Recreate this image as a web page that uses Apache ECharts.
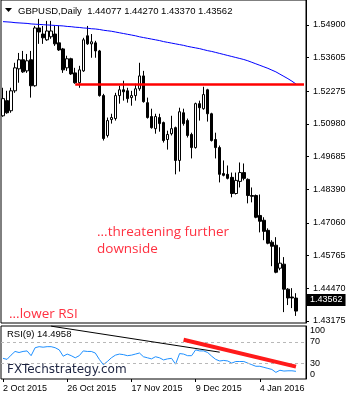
<!DOCTYPE html>
<html>
<head>
<meta charset="utf-8">
<script src="https://cdn.jsdelivr.net/npm/echarts@6/dist/echarts.min.js"></script>
<style>
  html, body { margin: 0; padding: 0; background: #fff; }
  #main { width: 350px; height: 400px; }
</style>
</head>
<body>
<div id="main"></div>
<script>
// trading days, two empty ones at the right (chart shift)
const dates = [
  '2 Oct 2015','5 Oct 2015','6 Oct 2015','7 Oct 2015','8 Oct 2015','9 Oct 2015','12 Oct 2015','13 Oct 2015','14 Oct 2015','15 Oct 2015',
  '16 Oct 2015','19 Oct 2015','20 Oct 2015','21 Oct 2015','22 Oct 2015','23 Oct 2015','26 Oct 2015','27 Oct 2015','28 Oct 2015','29 Oct 2015',
  '30 Oct 2015','2 Nov 2015','3 Nov 2015','4 Nov 2015','5 Nov 2015','6 Nov 2015','9 Nov 2015','10 Nov 2015','11 Nov 2015','12 Nov 2015',
  '13 Nov 2015','16 Nov 2015','17 Nov 2015','18 Nov 2015','19 Nov 2015','20 Nov 2015','23 Nov 2015','24 Nov 2015','25 Nov 2015','26 Nov 2015',
  '27 Nov 2015','30 Nov 2015','1 Dec 2015','2 Dec 2015','3 Dec 2015','4 Dec 2015','7 Dec 2015','8 Dec 2015','9 Dec 2015','10 Dec 2015',
  '11 Dec 2015','14 Dec 2015','15 Dec 2015','16 Dec 2015','17 Dec 2015','18 Dec 2015','21 Dec 2015','22 Dec 2015','23 Dec 2015','24 Dec 2015',
  '28 Dec 2015','29 Dec 2015','30 Dec 2015','31 Dec 2015','4 Jan 2016','5 Jan 2016','6 Jan 2016','7 Jan 2016','8 Jan 2016','11 Jan 2016',
  '12 Jan 2016','13 Jan 2016','14 Jan 2016','15 Jan 2016','18 Jan 2016','19 Jan 2016'
]
const dateLabels = ['2 Oct 2015','26 Oct 2015','17 Nov 2015','9 Dec 2015','4 Jan 2016']

const opens = [
  1.5130,1.5190,1.5150,1.5229,1.5316,1.5352,1.5308,1.5352,1.5249,1.5478,
  1.5454,1.5431,1.5443,1.5454,1.5419,1.5395,1.5320,1.5356,1.5300,1.5261,
  1.5308,1.5447,1.5415,1.5419,1.5387,1.5210,1.5052,1.5115,1.5119,1.5210,
  1.5233,1.5229,1.5202,1.5210,1.5237,1.5288,1.5182,1.5127,1.5079,1.5123,
  1.5103,1.5036,1.5059,1.5083,1.4953,1.5142,1.5111,1.5056,1.5004,1.5178,
  1.5158,1.5233,1.5138,1.5036,1.5004,1.4901,1.4898,1.4886,1.4822,1.4870,
  1.4905,1.4878,1.4814,1.4814,1.4735,1.4716,1.4676,1.4629,1.4617,1.4526,
  1.4542,1.4443,1.4412,1.44077
]
const closes = [
  1.5198,1.5142,1.5229,1.5320,1.5352,1.5304,1.5348,1.5249,1.5478,1.5462,
  1.5439,1.5466,1.5466,1.5415,1.5391,1.5312,1.5356,1.5296,1.5261,1.5312,
  1.5431,1.5415,1.5423,1.5387,1.5210,1.5040,1.5111,1.5123,1.5210,1.5233,
  1.5225,1.5198,1.5210,1.5237,1.5288,1.5186,1.5123,1.5083,1.5127,1.5099,
  1.5032,1.5056,1.5079,1.4953,1.5146,1.5099,1.5052,1.5004,1.5178,1.5162,
  1.5214,1.5138,1.5032,1.5004,1.4898,1.4894,1.4882,1.4822,1.4874,1.4905,
  1.4882,1.4814,1.4811,1.4728,1.4712,1.4672,1.4625,1.4613,1.4510,1.4546,
  1.4443,1.4408,1.4408,1.43562
]
const lows = [
  1.5126,1.5138,1.5142,1.5221,1.5261,1.5300,1.5300,1.5202,1.5245,1.5415,
  1.5415,1.5427,1.5435,1.5407,1.5387,1.5300,1.5308,1.5292,1.5257,1.5241,
  1.5304,1.5411,1.5360,1.5360,1.5206,1.5032,1.5044,1.5099,1.5111,1.5178,
  1.5190,1.5182,1.5170,1.5190,1.5229,1.5182,1.5119,1.5079,1.5059,1.5067,
  1.5024,1.4996,1.5052,1.4898,1.4909,1.5091,1.5044,1.4961,1.5000,1.5111,
  1.5154,1.5107,1.5028,1.4961,1.4866,1.4890,1.4878,1.4807,1.4818,1.4846,
  1.4874,1.4783,1.4787,1.4724,1.4668,1.4637,1.4621,1.4534,1.4506,1.4518,
  1.4352,1.4380,1.4368,1.43370
]
const highs = [
  1.5241,1.5229,1.5241,1.5340,1.5379,1.5387,1.5375,1.5387,1.5486,1.5514,
  1.5486,1.5506,1.5506,1.5486,1.5486,1.5399,1.5368,1.5360,1.5320,1.5328,
  1.5439,1.5486,1.5454,1.5427,1.5391,1.5217,1.5123,1.5138,1.5221,1.5249,
  1.5269,1.5241,1.5229,1.5257,1.5340,1.5308,1.5202,1.5158,1.5138,1.5138,
  1.5107,1.5071,1.5130,1.5087,1.5162,1.5158,1.5119,1.5063,1.5182,1.5190,
  1.5245,1.5237,1.5142,1.5063,1.5012,1.4953,1.4933,1.4905,1.4905,1.4945,
  1.4941,1.4882,1.4846,1.4818,1.4818,1.4728,1.4684,1.4637,1.4649,1.4609,
  1.4570,1.4447,1.4447,1.44270
]
// blue moving average
const ma = [
  1.5503,1.5502,1.5501,1.5499,1.5498,1.5497,1.5496,1.5494,1.5493,1.5492,
  1.5491,1.5490,1.5489,1.5488,1.5487,1.5486,1.5484,1.5483,1.5481,1.5480,
  1.5478,1.5477,1.5475,1.5474,1.5472,1.5469,1.5467,1.5465,1.5462,1.5459,
  1.5456,1.5453,1.5450,1.5447,1.5443,1.5440,1.5437,1.5434,1.5431,1.5428,
  1.5424,1.5421,1.5418,1.5415,1.5412,1.5409,1.5405,1.5402,1.5399,1.5396,
  1.5392,1.5388,1.5385,1.5381,1.5377,1.5373,1.5369,1.5365,1.5361,1.5357,
  1.5353,1.5348,1.5342,1.5336,1.5330,1.5324,1.5318,1.5311,1.5304,1.5295,
  1.5286,1.5277,1.5267,1.5256
]
const rsi = [
  39,37,45,52,50,52,53,44,59,61,
  60,61,61,59,55,43,47,44,40,44,
  53,52,52,49,37,27,33,40,45,47,
  46,44,45,47,49,42,40,38,42,40,
  36,38,39,28,48,47,44,44,55,53,
  53,50,43,37,34,35,34,30,33,33,
  33,30,27,24,24,22,20,18,12.5,16.5,
  15,15.5,15.5,14.4958
]
const priceTicks = [1.43175,1.44470,1.45765,1.47060,1.48390,1.49685,1.50980,1.52275,1.53605,1.54900]
const rsiTicks = [0,30,70,100]
const resistance = 1.5254

const candles = opens.map((o, i) => [o, closes[i], lows[i], highs[i]])
const last = opens.length - 1
const axisFont = 'Liberation Sans'

var chart = echarts.init(document.getElementById('main'))
chart.setOption({
  animation: false,
  backgroundColor: '#fff',
  grid: [
    { left: 1, width: 305, top: -1, height: 324, show: true, borderColor: '#000', borderWidth: 1 },
    { left: 1, width: 305, top: 326, height: 53, show: true, borderColor: '#000', borderWidth: 1 }
  ],
  xAxis: [
    { type: 'category', gridIndex: 0, data: dates, boundaryGap: true,
      axisLine: { show: false }, axisTick: { show: false }, axisLabel: { show: false } },
    { type: 'category', gridIndex: 1, data: dates, boundaryGap: true,
      axisLine: { show: false },
      axisTick: { show: true, alignWithLabel: true, length: 3, lineStyle: { color: '#000' },
        interval: (i, v) => dateLabels.includes(v) },
      axisLabel: { interval: (i, v) => dateLabels.includes(v), align: 'left', margin: 5,
        fontSize: 9, fontFamily: axisFont, color: '#000' } }
  ],
  yAxis: [
    { type: 'value', gridIndex: 0, position: 'right', min: 1.43089, max: 1.55888,
      splitLine: { show: false },
      axisLine: { show: true, lineStyle: { color: '#000' } },
      axisTick: { show: true, length: 3, lineStyle: { color: '#000' }, customValues: priceTicks },
      axisLabel: { customValues: priceTicks, formatter: v => v.toFixed(5), margin: 7,
        fontSize: 9, fontFamily: axisFont, color: '#000' } },
    { type: 'value', gridIndex: 1, position: 'right', min: 0, max: 100,
      splitLine: { show: false },
      axisLine: { show: true, lineStyle: { color: '#000' } },
      axisTick: { show: false },
      axisLabel: { customValues: rsiTicks, margin: 4, fontSize: 9, fontFamily: axisFont, color: '#000',
        verticalAlignMinLabel: 'bottom', verticalAlignMaxLabel: 'top' } }
  ],
  series: [
    {
      type: 'candlestick', xAxisIndex: 0, yAxisIndex: 0, data: candles, barWidth: 3,
      itemStyle: { color: '#fff', color0: '#000', borderColor: '#000', borderColor0: '#000',
        borderColorDoji: '#000', borderWidth: 1 },
      markLine: {
        silent: true, symbol: 'none', label: { show: false },
        data: [
          [
            { coord: [dates[18], resistance], lineStyle: { color: '#ff0000', width: 2.5, type: 'solid' } },
            { coord: [dates[dates.length - 1], resistance] }
          ]
        ]
      }
    },
    {
      // invisible line carrying the last-price box on the right axis
      type: 'line', xAxisIndex: 0, yAxisIndex: 0, data: [], symbol: 'none',
      markLine: {
        silent: true, symbol: 'none',
        lineStyle: { color: 'rgba(0,0,0,0)', width: 0 },
        label: { show: true, position: 'end', distance: 1, formatter: closes[last].toFixed(5),
          backgroundColor: '#000', color: '#fff', padding: [2, 3, 1, 3],
          fontSize: 9, fontFamily: axisFont },
        data: [{ yAxis: closes[last] }]
      }
    },
    {
      type: 'line', xAxisIndex: 0, yAxisIndex: 0, data: ma, symbol: 'none',
      lineStyle: { color: '#0000ff', width: 1 }
    },
    {
      type: 'line', xAxisIndex: 1, yAxisIndex: 1, data: rsi, symbol: 'none',
      lineStyle: { color: '#1e90ff', width: 1 },
      markLine: {
        silent: true, symbol: 'none', label: { show: false },
        data: [
          { yAxis: 70, lineStyle: { color: '#b8b8b8', type: [3, 3], width: 1 } },
          { yAxis: 30, lineStyle: { color: '#b8b8b8', type: [3, 3], width: 1 } },
          [
            { coord: [dates[12], 99.7], lineStyle: { color: '#000', width: 1, type: 'solid' } },
            { coord: [dates[54], 50.6] }
          ],
          [
            { coord: [dates[45], 74], lineStyle: { color: '#ff1a1a', width: 4, type: 'solid' } },
            { coord: [dates[73], 23.4] }
          ]
        ]
      }
    }
  ],
  graphic: [
    { type: 'polygon', shape: { points: [[5, 8], [12, 8], [8.5, 12]] }, style: { fill: '#000' } },
    { type: 'text', x: 18, y: 11, style: {
        text: 'GBPUSD,Daily  ' + [opens[last], highs[last], lows[last], closes[last]].map(v => v.toFixed(5)).join(' '),
        fill: '#000', font: '9.5px "Liberation Sans"', verticalAlign: 'middle' } },
    { type: 'text', x: 97, y: 232, style: { text: '...threatening further', fill: '#ff3040',
        font: '13.5px "Open Sans"', verticalAlign: 'middle' } },
    { type: 'text', x: 97, y: 249, style: { text: 'downside', fill: '#ff3040',
        font: '13.5px "Open Sans"', verticalAlign: 'middle' } },
    { type: 'text', x: 9, y: 314, style: { text: '...lower RSI', fill: '#ff3040',
        font: '13.5px "Open Sans"', verticalAlign: 'middle' } },
    { type: 'text', x: 7, y: 334.5, style: { text: 'RSI(9) ' + rsi[last].toFixed(4), fill: '#000',
        font: '9.5px "Liberation Sans"', verticalAlign: 'middle' } },
    { type: 'text', x: 7, y: 369.5, style: { text: 'FXTechstrategy.com', fill: '#1c2340',
        font: '12px "DejaVu Sans"', verticalAlign: 'middle' } }
  ]
})
</script>
</body>
</html>
